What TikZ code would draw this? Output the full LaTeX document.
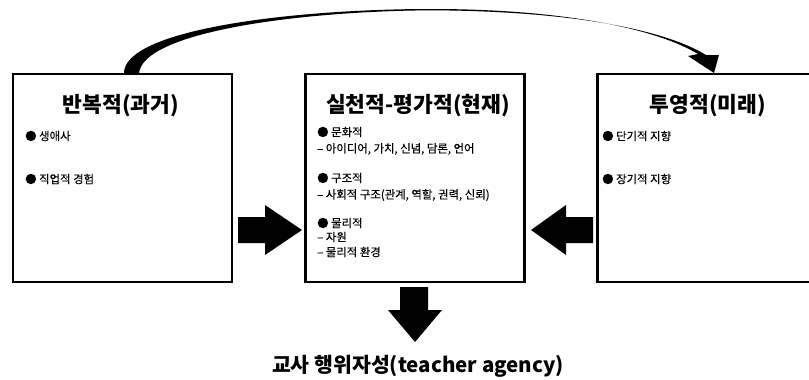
\documentclass[tikz,border=0pt]{standalone}
\usepackage{fontspec}
\setmainfont{Noto Sans CJK KR}
\newfontfamily\bodyfont[FakeBold=0.35]{Noto Sans CJK KR}
\begin{document}
\begin{tikzpicture}[x=1pt,y=-1pt]
\tikzset{
  box/.style={draw, line width=2.2pt, minimum width=219pt, minimum height=208pt, inner sep=0pt},
  ttl/.style={font=\bfseries\fontsize{21.5}{24}\selectfont, inner sep=0pt},
  itm/.style={font=\bodyfont\fontsize{11.4}{13}\selectfont, anchor=west, inner sep=0pt},
  blk/.style={fill=black}
}
\useasboundingbox (0,0) rectangle (809,380);
% boxes
\node[box] (past) at (122.5,178) {};
\node[box] (pres) at (415,178) {};
\node[box] (fut) at (707,178) {};
% titles
\node[ttl] (pastT) at (121,106) {반복적(과거)};
\node[ttl] (presT) at (418,106) {실천적-평가적(현재)};
\node[ttl] (futT) at (708,106) {투영적(미래)};
% past items
\node[itm] (p1) at (25,136) {● 생애사};
\node[itm] (p2) at (25,179) {● 직업적 경험};
% present items
\node[itm] (m1) at (317,132) {● 문화적};
\node[itm] (m2) at (317,149) {– 아이디어, 가치, 신념, 담론, 언어};
\node[itm] (m3) at (317,178) {● 구조적};
\node[itm] (m4) at (317,195) {– 사회적 구조(관계, 역할, 권력, 신뢰)};
\node[itm] (m5) at (317,223) {● 물리적};
\node[itm] (m6) at (317,237) {– 자원};
\node[itm] (m7) at (317,252) {– 물리적 환경};
% future items
\node[itm] (f1) at (602,136) {● 단기적 지향};
\node[itm] (f2) at (602,179) {● 장기적 지향};
% result
\node[ttl, font=\bfseries\fontsize{20.5}{24}\selectfont] (res) at (418,366) {교사 행위자성(teacher agency)};
% block arrows
\fill[blk] (238,217) -- (265,217) -- (265,205) -- (302,230) -- (265,255) -- (265,243) -- (238,243) -- cycle;
\fill[blk] (593,217) -- (566,217) -- (566,205) -- (531,230) -- (566,255) -- (566,243) -- (593,243) -- cycle;
\fill[blk] (400,287) -- (428,287) -- (428,310) -- (442,310) -- (415,342) -- (388,310) -- (400,310) -- cycle;
% curved arrow from past to future
\fill[blk] (124,74) .. controls (122,30) and (290,9) .. (432,9)
  .. controls (560,9) and (655,28) .. (698,54)
  -- (688,56) -- (714,73) -- (719,55) -- (706,55)
  .. controls (660,27) and (560,11) .. (432,10.3)
  .. controls (300,11) and (141,32) .. (139,74) -- cycle;
\end{tikzpicture}
\end{document}
